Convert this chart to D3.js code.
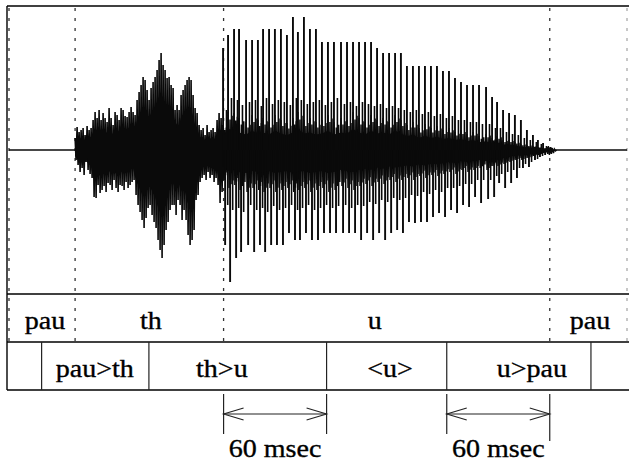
<!DOCTYPE html>
<html><head><meta charset="utf-8">
<script src="https://cdn.jsdelivr.net/npm/d3@7"></script>
<style>body{margin:0;background:#fff}svg{display:block}</style>
</head><body>
<svg id="c" width="629" height="462"></svg>
<script>
// ---------- DATA (time in ms, amplitude in arbitrary units, 0 = centre) ----------
const phoneBounds   = [0, 38.5, 125, 315, 360];
const phoneLabels   = ["pau", "th", "u", "pau"];
const phoneLabelAt  = [21, 82.7, 213, 338.4];

const diphoneBounds  = [0, 19, 81.5, 185, 255, 339, 360];
const diphoneLabels  = ["pau>th", "th>u", "<u>", "u>pau"];
const diphoneLabelAt = [50, 124, 222, 304.6];

const spanStart  = [125, 255];
const spanEnd    = [185, 315];
const spanLabels = ["60 msec", "60 msec"];

// leading / trailing silence
const silenceStart = [0, 316.5];
const silenceEnd   = [38.5, 360];

// fricative /th/ noise: extremes per sample column (uniformly sampled)
const fricStart = 38.5, fricStep = 1.165;
const fricHi = [12,23,18,20,22,15,24,20,22,30,38,32,40,30,37,32,28,42,32,25,38,35,30,42,40,34,33,38,43,38,35,50,58,65,73,70,60,50,62,68,73,80,90,97,85,80,72,73,65,62,40,45,40,55,60,65,70,73,70,55,42,37,25,20,22,15,25,18,20,22,18,30,37,32,25];
const fricLo = [-10,-15,-22,-18,-25,-12,-20,-24,-28,-47,-48,-35,-43,-40,-36,-42,-33,-35,-40,-30,-38,-42,-35,-36,-40,-32,-38,-35,-32,-30,-45,-55,-62,-70,-78,-68,-58,-55,-65,-72,-78,-90,-100,-108,-95,-80,-72,-60,-55,-55,-65,-50,-55,-70,-60,-70,-85,-95,-90,-80,-50,-45,-32,-28,-25,-30,-22,-28,-25,-32,-28,-35,-53,-42,-30];

// voiced /u/: glottal pulses (main and secondary peaks per period)
const pulseT = [124.7,127.6,131.1,134.0,138.1,141.6,145.0,148.0,151.5,154.9,158.4,161.9,165.4,168.3,171.8,175.3,178.8,182.3,185.8,189.3,193.4,196.9,200.4,203.9,207.4,210.9,214.4,217.9,221.4,224.9,228.3,231.8,235.3,238.8,242.3,245.8,249.3,252.8,256.3,259.8,263.3,266.8,270.3,273.8,277.9,281.4,284.3,287.8,291.3,294.7,298.2,301.7,305.2,308.1,311.1,314.0];
const pulseMax = [102,115,121,121,110,110,110,121,121,121,121,115,133,118,133,121,121,108,108,108,108,108,108,108,108,108,102,97,97,97,97,84,84,84,84,84,84,79,79,72,68,65,65,65,63,53,48,40,37,35,30,20,15,10,7,3];
const pulseMin = [-95,-132,-108,-102,-95,-102,-95,-102,-95,-95,-95,-83,-90,-90,-83,-90,-90,-83,-83,-83,-83,-83,-83,-90,-83,-90,-83,-90,-83,-80,-83,-72,-73,-72,-72,-67,-63,-67,-60,-63,-55,-57,-47,-53,-49,-47,-33,-38,-33,-28,-18,-17,-10,-7,-5,-3];
const pulse2Max = [40,52,50,45,48,50,44,52,46,50,48,45,52,50,46,48,50,45,48,52,46,48,44,48,46,44,46,42,44,42,40,38,40,36,38,34,36,32,34,30,30,28,28,26,26,22,22,18,16,15,12,10,8,6,4,2];
const pulse2Min = [-55,-60,-58,-62,-55,-60,-58,-62,-56,-60,-58,-55,-60,-58,-55,-60,-58,-55,-58,-56,-55,-58,-55,-56,-52,-54,-50,-52,-48,-50,-48,-45,-46,-42,-44,-40,-42,-38,-38,-36,-34,-34,-30,-30,-30,-26,-24,-22,-20,-18,-14,-12,-9,-6,-4,-2];
const bandHi = [25,38,37,32,28,35,30,32,28,35,30,27,32,38,30,32,28,30,35,28,32,30,38,32,28,35,30,32,28,35,30,25,28,22,26,22,24,20,22,18,20,16,18,14,16,12,14,10,10,8,6,5,4,3,2,1];
const bandLo = [-28,-38,-35,-40,-42,-38,-40,-42,-38,-42,-40,-38,-42,-40,-38,-42,-40,-38,-42,-40,-36,-38,-40,-36,-34,-36,-32,-34,-30,-32,-30,-28,-30,-26,-28,-25,-26,-24,-22,-24,-20,-22,-20,-18,-20,-16,-16,-14,-12,-10,-10,-8,-6,-5,-3,-2];

// decaying tail after the last pulse
const tailStart = 314.2, tailStep = 0.6;
const tailAmp = [4,-5,3,-4,2,-3,1,-1,0];

// ---------- LAYOUT ----------
const svg = d3.select("#c");
const L = 7, R = 629, T = 6, wBottom = 294, r1Bottom = 342, r2Bottom = 390;
const x = d3.scaleLinear().domain([0, 360]).range([9, 627]);
const y = d3.scaleLinear().domain([-144, 144]).range([wBottom, T]);
const ink = "#0a0a0a";

// dotted phone boundary lines
svg.append("g").selectAll("line").data(phoneBounds).join("line")
  .attr("x1", d => x(d)).attr("x2", d => x(d))
  .attr("y1", T + 2).attr("y2", r1Bottom)
  .attr("stroke", (d, i) => i === phoneBounds.length - 1 ? "#aaa" : "#333")
  .attr("stroke-width", 1.3).attr("stroke-dasharray", "3,7");

// waveform
const wave = svg.append("g");
wave.selectAll("line.sil").data(silenceStart).join("line").attr("class", "sil")
  .attr("x1", d => x(d)).attr("x2", (d, i) => x(silenceEnd[i]))
  .attr("y1", y(0)).attr("y2", y(0))
  .attr("stroke", ink).attr("stroke-width", 1.5);

// fricative: dense core + spiky zig-zag
wave.append("path")
  .attr("d", d3.area().x((d, i) => x(fricStart + i * fricStep))
    .y0((d, i) => y(fricLo[i] * 0.6)).y1(d => y(d * 0.6))(fricHi))
  .attr("fill", ink);
const fricPts = [];
fricHi.forEach((h, i) => {
  const t = fricStart + i * fricStep;
  fricPts.push([t, h]); fricPts.push([t + fricStep * 0.5, fricLo[i]]);
});
wave.append("path").attr("d", d3.line().x(d => x(d[0])).y(d => y(d[1]))(fricPts))
  .attr("fill", "none").attr("stroke", ink).attr("stroke-width", 1.6);

// voiced band: zig-zag between band limits
const bandPts = [];
pulseT.forEach((t, i) => {
  const t2 = i < pulseT.length - 1 ? pulseT[i + 1] : t + 3;
  const dt = (t2 - t) / 6;
  bandPts.push([t, bandHi[i]], [t + dt, bandLo[i]], [t + 2 * dt, bandHi[i] * 0.8],
               [t + 3 * dt, bandLo[i] * 0.9], [t + 4 * dt, bandHi[i] * 0.9], [t + 5 * dt, bandLo[i] * 0.8]);
});
wave.append("path").attr("d", d3.line().x(d => x(d[0])).y(d => y(d[1]))(bandPts))
  .attr("fill", "none").attr("stroke", ink).attr("stroke-width", 1.5);
wave.append("path")
  .attr("d", d3.area().x((d, i) => x(pulseT[i])).y0((d, i) => y(bandLo[i] * 0.55)).y1((d, i) => y(bandHi[i] * 0.55))(pulseT))
  .attr("fill", ink);

// spikes
function spikes(cls, dtOff, vals, w) {
  wave.selectAll("line." + cls).data(pulseT).join("line").attr("class", cls)
    .attr("x1", d => x(d + dtOff)).attr("x2", d => x(d + dtOff))
    .attr("y1", y(0)).attr("y2", (d, i) => y(vals[i]))
    .attr("stroke", ink).attr("stroke-width", w);
}
spikes("up", 0, pulseMax, 1.9);
spikes("dn", 1.2, pulseMin, 1.9);
spikes("up2", 2.0, pulse2Max, 1.6);
spikes("dn2", 2.7, pulse2Min, 1.6);
wave.append("path")
  .attr("d", d3.line().x((d, i) => x(tailStart + i * tailStep)).y(d => y(d))(tailAmp))
  .attr("fill", "none").attr("stroke", ink).attr("stroke-width", 1.3);

// frame lines
const frame = svg.append("g").attr("stroke", "#000");
frame.append("line").attr("x1", L).attr("x2", R).attr("y1", T).attr("y2", T).attr("stroke-width", 1.6);
[wBottom, r1Bottom, r2Bottom].forEach(v =>
  frame.append("line").attr("x1", L).attr("x2", R).attr("y1", v).attr("y2", v).attr("stroke-width", 1.3));
frame.append("line").attr("x1", L).attr("x2", L).attr("y1", T).attr("y2", r2Bottom).attr("stroke-width", 1.4);

// diphone row separators
svg.append("g").selectAll("line").data(diphoneBounds.slice(1, -1)).join("line")
  .attr("x1", d => x(d)).attr("x2", d => x(d))
  .attr("y1", r1Bottom).attr("y2", r2Bottom)
  .attr("stroke", "#222").attr("stroke-width", 1.2);

// labels
const sx = 1.1;
const lab = svg.append("g");
function label(txt, px, py) {
  lab.append("g").attr("transform", `translate(${px},${py}) scale(${sx},1)`)
    .append("text").attr("text-anchor", "middle")
    .attr("font-family", "Liberation Serif, Times New Roman, serif")
    .attr("font-size", 25.5).attr("fill", "#000")
    .attr("stroke", "#000").attr("stroke-width", 0.35).text(txt);
}
phoneLabels.forEach((t, i) => label(t, x(phoneLabelAt[i]), 329));
diphoneLabels.forEach((t, i) => label(t, x(diphoneLabelAt[i]), 377));

// 60 msec spans
const spans = svg.append("g").attr("stroke", "#222").attr("fill", "none");
spanStart.forEach((s, i) => {
  const e = spanEnd[i], x0 = x(s), x1 = x(e), ay = 414;
  spans.append("line").attr("x1", x0).attr("x2", x0).attr("y1", 394).attr("y2", 434).attr("stroke-width", 1.2);
  spans.append("line").attr("x1", x1).attr("x2", x1).attr("y1", 394).attr("y2", i === 1 ? 441 : 434).attr("stroke-width", 1.2);
  spans.append("line").attr("x1", x0).attr("x2", x1).attr("y1", ay).attr("y2", ay).attr("stroke-width", 1.2);
  spans.append("path").attr("d", `M${x0 + 20},${ay - 6}L${x0},${ay}L${x0 + 20},${ay + 6}`).attr("stroke-width", 1.1);
  spans.append("path").attr("d", `M${x1 - 20},${ay - 6}L${x1},${ay}L${x1 - 20},${ay + 6}`).attr("stroke-width", 1.1);
  label(spanLabels[i], (x0 + x1) / 2, 457);
});
</script>
</body></html>
